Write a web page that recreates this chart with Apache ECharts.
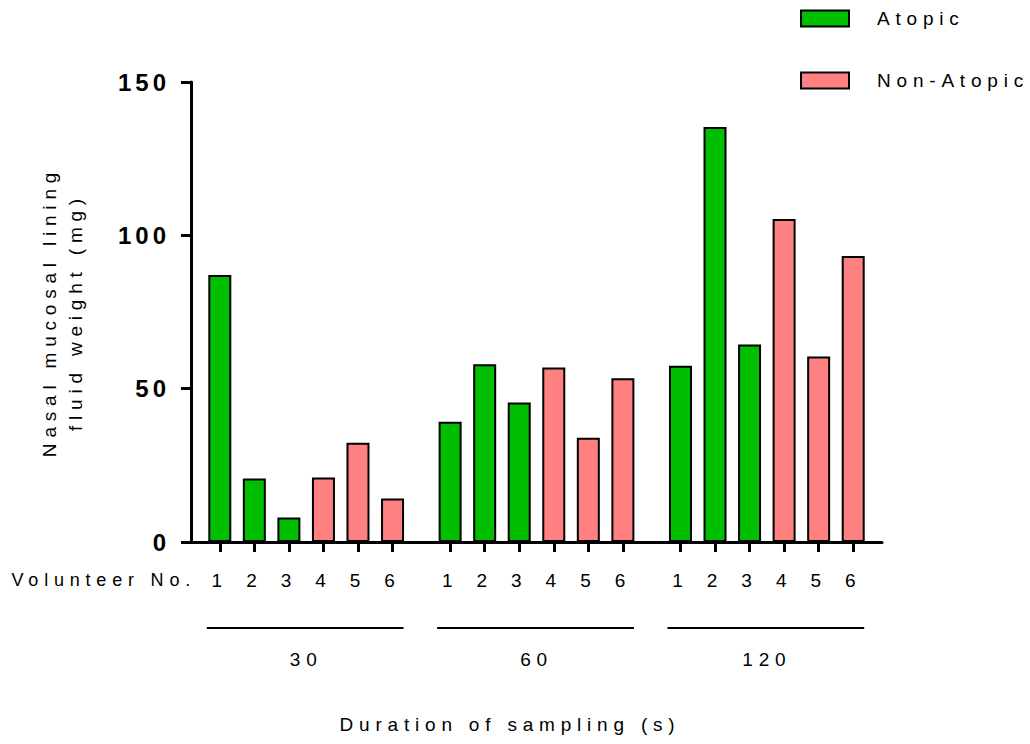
<!DOCTYPE html>
<html>
<head>
<meta charset="utf-8">
<script src="https://cdn.jsdelivr.net/npm/echarts@6/dist/echarts.min.js"></script>
<style>
  html, body { margin: 0; padding: 0; background: #fff; }
  #chart { width: 1030px; height: 744px; }
  /* reference uses wide letter spacing everywhere */
  #chart svg text { letter-spacing: 5.8px; }
  #chart svg text[style*="bold"] { letter-spacing: 4px; }
</style>
</head>
<body>
<div id="chart"></div>
<script>
// sampling durations (s) and volunteer numbers
const durations = ['30', '60', '120'];
const volunteers = ['1', '2', '3', '4', '5', '6'];
// volunteers 1-3 are atopic, 4-6 non-atopic (mg)
const atopic = [
  [87.1, 20.7, 8.0],
  [39.2, 58.0, 45.5],
  [57.5, 135.3, 64.4]
];
const nonAtopic = [
  [21.0, 32.4, 14.2],
  [56.9, 34.0, 53.4],
  [105.3, 60.5, 93.3]
];
const yTicks = [0, 50, 100, 150];

const FONT = '"Liberation Sans", Arial, sans-serif';
const GREEN = '#00BF00';
const PINK = '#FF8080';

// each bar takes 3 slots of the category axis, groups are padded with 2 more
const SLOTS_PER_GROUP = 20, FIRST = 2, STEP = 3;
const slotKeys = [], slotText = [], atopicData = [], nonAtopicData = [];
const groupBars = [];
durations.forEach((d, g) => {
  const bars = [];
  for (let s = 0; s < SLOTS_PER_GROUP; s++) {
    const k = s - FIRST;
    const isBar = k >= 0 && k % STEP === 0 && k / STEP < volunteers.length;
    const v = isBar ? k / STEP : -1;
    slotKeys.push(d + ':' + s);
    slotText.push(isBar ? volunteers[v] : '');
    atopicData.push(isBar && v < 3 ? atopic[g][v] : null);
    nonAtopicData.push(isBar && v >= 3 ? nonAtopic[g][v - 3] : null);
    if (isBar) bars.push(slotKeys.length - 1);
  }
  groupBars.push(bars);
});

const chart = echarts.init(document.getElementById('chart'), null, { renderer: 'svg' });

const option = {
  animation: false,
  backgroundColor: '#fff',
  textStyle: { fontFamily: FONT, color: '#000' },
  grid: { left: 191, top: 82, width: 691, height: 460, containLabel: false, outerBoundsMode: 'none' },
  legend: {
    orient: 'vertical',
    left: 795, top: 4,
    icon: 'rect',
    itemWidth: 48, itemHeight: 16,
    itemGap: 43,
    selectedMode: false,
    itemStyle: { borderColor: '#000', borderWidth: 2 },
    textStyle: { fontFamily: FONT, fontSize: 19, color: '#000', padding: [0, 0, 0, 23] },
    data: ['Atopic', 'Non-Atopic']
  },
  xAxis: [{
    type: 'category',
    data: slotKeys,
    boundaryGap: true,
    axisLine: { show: true, lineStyle: { color: '#000', width: 3 } },
    axisTick: {
      show: true,
      alignWithLabel: true,
      interval: (i) => slotText[i] !== '',
      length: 10,
      lineStyle: { color: '#000', width: 3 }
    },
    axisLabel: {
      interval: 0,
      margin: 29,
      fontFamily: FONT, fontSize: 19, color: '#000',
      formatter: (v, i) => slotText[i]
    },
    splitLine: { show: false }
  }, {
    type: 'category',
    data: durations,
    position: 'bottom',
    offset: 100,
    axisLine: { show: false },
    axisTick: { show: false },
    axisLabel: { margin: 8, fontFamily: FONT, fontSize: 19, color: '#000' },
    splitLine: { show: false }
  }],
  yAxis: {
    type: 'value',
    min: yTicks[0], max: yTicks[yTicks.length - 1], interval: 50,
    name: 'Nasal mucosal lining\nfluid weight (mg)',
    nameLocation: 'middle',
    nameGap: 103,
    nameRotate: 90,
    nameTextStyle: { fontFamily: FONT, fontSize: 19, lineHeight: 26, color: '#000' },
    axisLine: { show: true, lineStyle: { color: '#000', width: 3 } },
    axisTick: { show: true, length: 10, lineStyle: { color: '#000', width: 3 } },
    axisLabel: { margin: 21, fontFamily: FONT, fontSize: 24, fontWeight: 'bold', color: '#000' },
    splitLine: { show: false }
  },
  series: [{
    name: 'Atopic',
    type: 'bar',
    data: atopicData,
    barWidth: 23,
    barGap: '-100%',
    itemStyle: { color: GREEN, borderColor: '#000', borderWidth: 2 }
  }, {
    name: 'Non-Atopic',
    type: 'bar',
    data: nonAtopicData,
    barWidth: 23,
    barGap: '-100%',
    itemStyle: { color: PINK, borderColor: '#000', borderWidth: 2 }
  }]
};
chart.setOption(option);

// group underlines + texts that are not tied to an axis
const lineY = 628;
const graphics = groupBars.map(bars => {
  const x1 = chart.convertToPixel({ xAxisIndex: 0 }, bars[0]) - 13;
  const x2 = chart.convertToPixel({ xAxisIndex: 0 }, bars[bars.length - 1]) + 11;
  return {
    type: 'line',
    shape: { x1, y1: lineY, x2, y2: lineY },
    style: { stroke: '#000', lineWidth: 2 }
  };
});
graphics.push({
  type: 'text',
  x: 196, y: 580,
  style: { text: 'Volunteer No.', font: '18px ' + FONT, fill: '#000', textAlign: 'right', textVerticalAlign: 'middle' }
});
graphics.push({
  type: 'text',
  x: 510, y: 724,
  style: { text: 'Duration of sampling (s)', font: '19px ' + FONT, fill: '#000', textAlign: 'center', textVerticalAlign: 'middle' }
});
chart.setOption({ graphic: graphics });
</script>
</body>
</html>
